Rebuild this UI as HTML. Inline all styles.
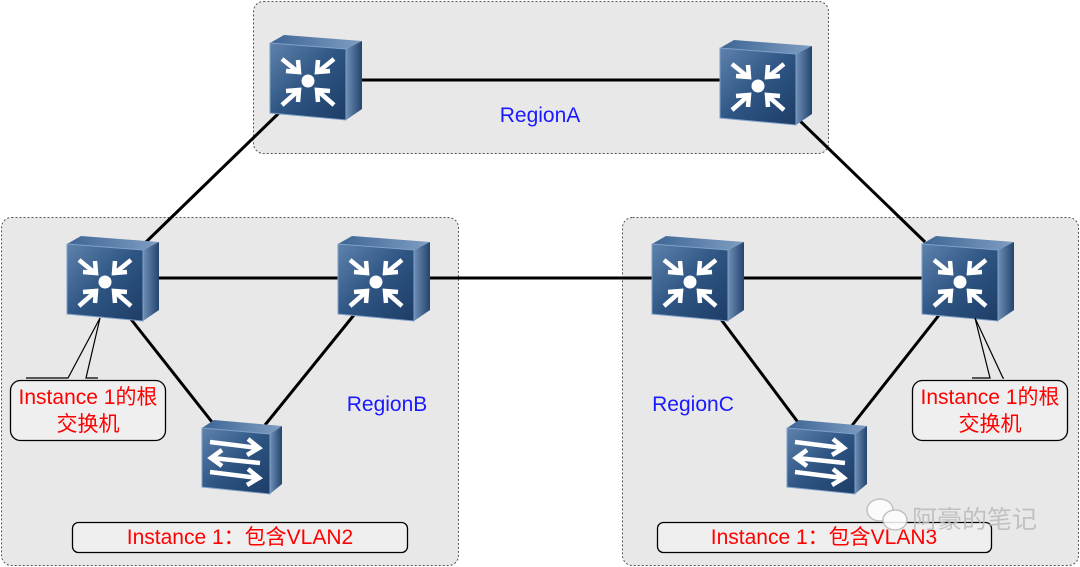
<!DOCTYPE html>
<html><head><meta charset="utf-8"><style>
html,body{margin:0;padding:0;background:#fff}
svg{display:block}
text{font-family:"Liberation Sans","Noto Sans CJK SC",sans-serif}
</style></head><body>
<svg width="1080" height="567" viewBox="0 0 1080 567" xmlns="http://www.w3.org/2000/svg">
<defs>
<linearGradient id="fr" x1="0" y1="0" x2="1" y2="1">
<stop offset="0" stop-color="#5f82ad"/><stop offset="0.5" stop-color="#2e5583"/><stop offset="1" stop-color="#1d3d66"/></linearGradient>
<linearGradient id="tp" x1="0" y1="0" x2="1" y2="0">
<stop offset="0" stop-color="#3d6594"/><stop offset="1" stop-color="#7f9dc2"/></linearGradient>
<linearGradient id="sd" x1="0" y1="0" x2="1" y2="0">
<stop offset="0" stop-color="#6f8fb6"/><stop offset="1" stop-color="#23446e"/></linearGradient>
<g id="core">
<polygon points="16,0 94,6 78,14 2,8" fill="url(#tp)"/>
<polygon points="78,14 94,6 94,74 78,85" fill="url(#sd)"/>
<polygon points="2,8 78,14 78,85 2,78" fill="url(#fr)" stroke="#7fa0c8" stroke-width="1"/>
<circle cx="40" cy="46" r="6.5" fill="#fff"/>
<g stroke="#fff" stroke-width="4.5" fill="none" stroke-linecap="butt">
<path d="M14,24 L30,37 M18,36 L31,37 L30,25"/>
<path d="M66,24 L50,37 M62,36 L49,37 L50,25"/>
<path d="M14,70 L30,56 M18,56 L31,55 L30,67"/>
<path d="M66,70 L50,56 M62,56 L49,55 L50,67"/>
</g>
</g>
<g id="acc">
<polygon points="14,0 82,6 70,14 2,8" fill="url(#tp)"/>
<polygon points="70,14 82,6 82,64 70,74" fill="url(#sd)"/>
<polygon points="2,8 70,14 70,74 2,67" fill="url(#fr)" stroke="#7fa0c8" stroke-width="1"/>
<g stroke="#fff" stroke-width="4.5" fill="none">
<path d="M10,22 L58,28 M48,19 L59,28 L47,35"/>
<path d="M60,43 L12,38 M22,30 L11,38 L22,46"/>
<path d="M10,52 L58,58 M48,49 L59,58 L47,65"/>
</g>
</g>
</defs>
<rect x="253.5" y="1.5" width="575" height="152" rx="10" fill="#e8e8e8" stroke="#555" stroke-dasharray="2,2"/>
<rect x="1.5" y="217.5" width="457" height="348" rx="10" fill="#e8e8e8" stroke="#555" stroke-dasharray="2,2"/>
<rect x="622.5" y="217.5" width="456" height="348" rx="10" fill="#e8e8e8" stroke="#555" stroke-dasharray="2,2"/>
<g stroke="#000" stroke-width="3">
<line x1="345" y1="80" x2="730" y2="80"/>
<line x1="280" y1="112" x2="145" y2="243"/>
<line x1="797" y1="118" x2="925" y2="242"/>
<line x1="150" y1="278" x2="345" y2="278"/>
<line x1="420" y1="278" x2="660" y2="278"/>
<line x1="710" y1="278" x2="930" y2="278"/>
<line x1="130" y1="318" x2="212" y2="422"/>
<line x1="358" y1="310" x2="265" y2="425"/>
<line x1="720" y1="318" x2="800" y2="425"/>
<line x1="943" y1="310" x2="850" y2="428"/>
</g>
<use href="#core" x="268" y="35"/>
<use href="#core" x="718" y="40"/>
<use href="#core" x="65" y="236"/>
<use href="#core" x="336" y="236"/>
<use href="#core" x="650" y="236"/>
<use href="#core" x="920" y="236"/>
<use href="#acc" x="200" y="420"/>
<use href="#acc" x="785" y="420"/>
<g font-size="21" fill="#1a1aff" text-anchor="middle">
<text x="540" y="122">RegionA</text>
<text x="387" y="411">RegionB</text>
<text x="693" y="411">RegionC</text>
</g>
<g stroke="#000" stroke-width="1.2" fill="none">
<path d="M26,378 L68,378 L100,318 L86,378 L98,378"/>
<path d="M972,378 L990,378 L975,318 L1003,378 L1004,378"/>
</g>
<rect x="10.5" y="380.5" width="155" height="60" rx="10" fill="#efefef" stroke="#000" stroke-width="1.3"/>
<rect x="912.5" y="380.5" width="155" height="60" rx="10" fill="#efefef" stroke="#000" stroke-width="1.3"/>
<g font-size="21" fill="#ff0000" text-anchor="middle">
<text x="88" y="404">Instance 1的根</text>
<text x="88" y="431">交换机</text>
<text x="990" y="404">Instance 1的根</text>
<text x="990" y="431">交换机</text>
</g>
<rect x="72.5" y="522.5" width="335" height="30" rx="6" fill="#efefef" stroke="#000" stroke-width="1.3"/>
<rect x="657.5" y="522.5" width="334" height="30" rx="6" fill="#efefef" stroke="#000" stroke-width="1.3"/>
<g font-size="21" fill="#ff0000" text-anchor="middle">
<text x="240" y="544">Instance 1：包含VLAN2</text>
<text x="824" y="544">Instance 1：包含VLAN3</text>
</g>
<g opacity="0.85">
<ellipse cx="880" cy="510" rx="13" ry="11" fill="#fff" stroke="#bbb" stroke-width="1.5"/>
<ellipse cx="895" cy="520" rx="12" ry="10" fill="#fff" stroke="#bbb" stroke-width="1.5"/>
<text x="912" y="528" font-size="25" fill="#bbb">阿豪的笔记</text>
</g>
</svg>
</body></html>
